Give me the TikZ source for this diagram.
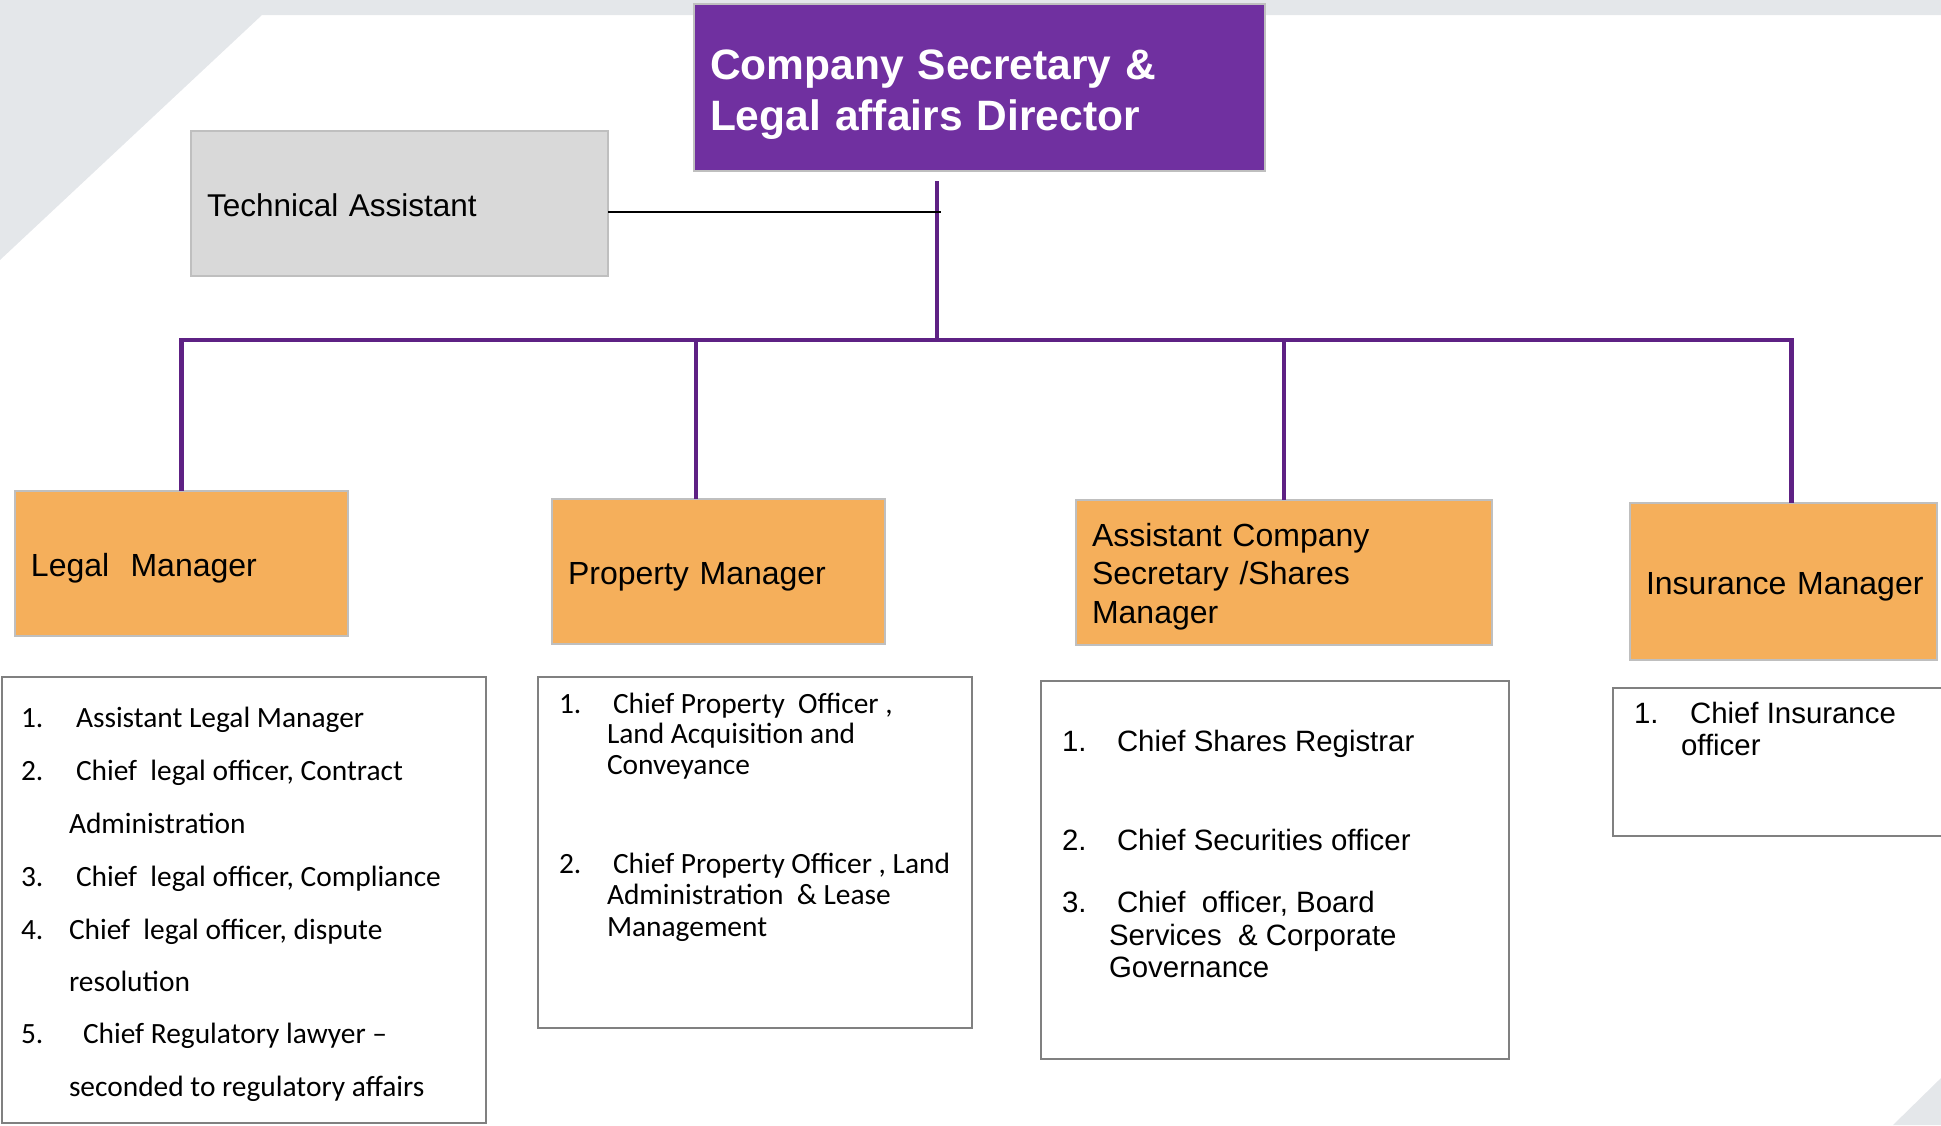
\documentclass[tikz,border=0pt]{standalone}
\usepackage{fontspec}
\setmainfont{Liberation Sans}
\newfontfamily\calibri{Carlito}
\usetikzlibrary{calc}
\definecolor{headpurple}{HTML}{7030A0}
\definecolor{linepurple}{HTML}{5E2184}
\definecolor{mgrorange}{HTML}{F5AF5B}
\definecolor{assistgray}{HTML}{D9D9D9}
\definecolor{boxedge}{HTML}{BFBFBF}
\definecolor{listedge}{HTML}{808080}
\definecolor{slate}{HTML}{E4E7EA}
\tikzset{
	org chart/.style={x=0.5pt, y=-0.5pt, every node/.style={outer sep=0pt}},
	role/.style={draw=boxedge, line width=1pt, inner xsep=8pt, inner ysep=0pt,
		align=left, text height=16pt, text depth=3.4pt},
	head/.style={role, fill=headpurple, text=white,
		font=\bfseries\fontsize{21.25}{25.5}\selectfont,
		text height=21.5pt, text depth=30pt},
	assistant/.style={role, fill=assistgray, font=\fontsize{15.75}{19}\selectfont},
	manager/.style={role, fill=mgrorange, font=\fontsize{16}{19.2}\selectfont},
	duties/.style={draw=listedge, line width=0.75pt, fill=white},
	duty/.style={anchor=base west, inner sep=0pt},
	calibri duty/.style={duty, font=\calibri\fontsize{14.7}{17}\selectfont},
	arial duty/.style={duty, font=\fontsize{14.7}{17}\selectfont},
	reports/.style={draw=linepurple, line width=2.25pt},
	advises/.style={draw=black, line width=0.85pt}
}

\begin{document}
\begin{tikzpicture}[org chart]
  \useasboundingbox (0,0) rectangle (1941,1125);
  % background corners
  \fill[slate] (0,0) -- (1941,0) -- (1941,15) -- (262,15) -- (0,260) -- cycle;
  \fill[slate] (1893,1125) -- (1941,1078) -- (1941,1125) -- cycle;

  \node[head, text width=269.5pt, minimum height=83.5pt] (dir) at (979.5,87.5)
        {Company Secretary \&\\Legal affairs Director};
  \node[assistant, text width=192.5pt, minimum height=72.5pt] (tech) at (399.5,203.5)
        {Technical Assistant};
  \node[manager, text width=150.5pt, minimum height=72.5pt] (legal) at (181.5,563.5)
        {Legal~ Manager};
  \node[manager, text width=150.5pt, minimum height=72.5pt] (property) at (718.5,571.5)
        {Property Manager};
  \node[manager, text width=192pt, minimum height=72.5pt, text height=15.75pt, text depth=41.75pt]
        (acs) at (1284,572.5) {Assistant Company\\Secretary /Shares\\Manager};
  \node[manager, text width=137.5pt, minimum height=78.5pt] (insurance) at (1783.5,581.5)
        {\mbox{Insurance Manager}};

  \node[duties, minimum width=242pt, minimum height=223pt] (legalduties) at (244,900) {};
  \node[duties, minimum width=217pt, minimum height=175.5pt] (propduties) at (755,852.5) {};
  \node[duties, minimum width=234pt, minimum height=189pt] (shareduties) at (1275,870) {};
  \node[duties, minimum width=168.5pt, minimum height=74pt] (insduties) at (1781.5,762) {};

  \foreach \dx/\dy/\dtext [count=\i] in {
      21/727/1., 76/727/Assistant Legal Manager,
      21/780/2., 76/780/{Chief~ legal officer, Contract},
      69/833/Administration,
      21/886/3., 76/886/{Chief~ legal officer, Compliance},
      21/939/4., 69/939/{Chief~ legal officer, dispute},
      69/991/resolution,
      21/1043/5., 83/1043/Chief Regulatory lawyer –,
      69/1096/seconded to regulatory affairs}
    \node[calibri duty] (legalduty\i) at (\dx,\dy) {\dtext};
  \foreach \dx/\dy/\dtext [count=\i] in {
      559/713/1., 613/713/{Chief Property~ Officer ,},
      607/743/Land Acquisition and,
      607/774/Conveyance,
      559/873/2., 613/873/{Chief Property Officer , Land},
      607/904/Administration~ \& Lease,
      607/936/Management}
    \node[calibri duty] (propduty\i) at (\dx,\dy) {\dtext};
  \foreach \dx/\dy/\dtext [count=\i] in {
      1062/751/1., 1117/751/Chief Shares Registrar,
      1062/850/2., 1117/850/Chief Securities officer,
      1062/912/3., 1117/912/{Chief~ officer, Board},
      1109/945/Services~ \& Corporate,
      1109/977/Governance}
    \node[arial duty] (shareduty\i) at (\dx,\dy) {\dtext};
  \foreach \dx/\dy/\dtext [count=\i] in {
      1634/723/1., 1690/723/Chief Insurance,
      1681/755/officer}
    \node[arial duty] (insduty\i) at (\dx,\dy) {\dtext};

  % reporting lines
  \coordinate (hub) at (937,340);
  \coordinate (propdrop) at (696,340);
  \coordinate (insdrop) at (1791.5,340);
  \coordinate (tajoin) at (941,212);
  \draw[reports] ($(dir.south -| hub)+(0,10)$) -- (hub);
  \draw[reports] (legal.north) |- (insdrop) -- (insdrop |- insurance.north);
  \draw[reports] (propdrop) -- (propdrop |- property.north);
  \draw[reports] (acs.north |- hub) -- (acs.north);
  \draw[advises] (tech.east |- tajoin) -- (tajoin);
\end{tikzpicture}
\end{document}
